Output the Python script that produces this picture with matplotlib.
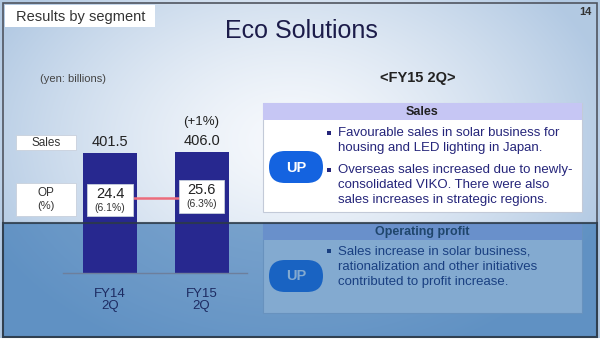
import numpy as np
import matplotlib.pyplot as plt
from matplotlib.patches import Rectangle, FancyBboxPatch

plt.rcParams['font.family'] = ['Liberation Sans', 'DejaVu Sans']

# segment figures (yen: billions)
categories = ["FY14\n2Q", "FY15\n2Q"]
sales = [401.5, 406.0]
op = [24.4, 25.6]
op_margin = [6.1, 6.3]

sales_points = [
    "Favourable sales in solar business for\nhousing and LED lighting in Japan.",
    "Overseas sales increased due to newly-\nconsolidated VIKO. There were also\nsales increases in strategic regions.",
]
op_points = [
    "Sales increase in solar business,\nrationalization and other initiatives\ncontributed to profit increase.",
]

W, H = 600, 346
NAVY = "#27288f"
TEXT_BLUE = "#25257a"

fig = plt.figure(figsize=(W / 100, H / 100), dpi=100)

# slide background, drawn in pixel coordinates
bg = fig.add_axes([0, 0, 1, 1], zorder=0)
bg.set_xlim(0, W)
bg.set_ylim(H, 0)
bg.axis("off")

yy, xx = np.mgrid[0:H, 0:W]
t = np.sqrt(((xx - 290) / 330.0) ** 2 + ((yy - 140) / 230.0) ** 2)
t = np.clip(t, 0, 1) ** 1.4
light = np.array([0.965, 0.975, 0.99])
edge = np.array([0.70, 0.79, 0.89])
grad = light[None, None, :] * (1 - t[..., None]) + edge[None, None, :] * t[..., None]
grad[338:, :, :] = 1.0
bg.imshow(grad, extent=(0, W, H, 0), aspect="auto", zorder=0)
bg.add_patch(Rectangle((3, 3), 594, 334, fill=False, ec="#505560", lw=1.2, zorder=1))

# header tag, title, page number
bg.add_patch(Rectangle((5, 5), 150, 22, fc="white", ec="none", zorder=2))
bg.text(81, 16.5, "Results by segment", fontsize=10.5, color="#333333",
        ha="center", va="center", zorder=3)
bg.text(301, 31, "Eco Solutions", fontsize=18, color="#1c1c4a",
        ha="center", va="center", zorder=3)
bg.text(585, 12, "14", fontsize=8, fontweight="bold", color="#333333",
        ha="center", va="center", zorder=3)
bg.text(73, 79, "(yen: billions)", fontsize=8, color="#444444",
        ha="center", va="center", zorder=3)
bg.text(418, 78, "<FY15 2Q>", fontsize=10.5, fontweight="bold", color="#222222",
        ha="center", va="center", zorder=3)

# row labels left of the bars
bg.add_patch(Rectangle((16, 135), 60, 15, fc="white", ec="#c8d0dc", lw=0.6, zorder=2))
bg.text(46, 142.5, "Sales", fontsize=8.5, color="#333333", ha="center", va="center", zorder=3)
bg.add_patch(Rectangle((16, 183), 60, 33, fc="white", ec="#c8d0dc", lw=0.6, zorder=2))
bg.text(46, 193, "OP", fontsize=8.5, color="#333333", ha="center", va="center", zorder=3)
bg.text(46, 206, "(%)", fontsize=8, color="#333333", ha="center", va="center", zorder=3)


def panel(top, header_h, body_h, title):
    bg.add_patch(Rectangle((263, top), 319, header_h + body_h, fc="white",
                           ec="#c3cad8", lw=0.8, zorder=2))
    bg.add_patch(Rectangle((263, top), 319, header_h, fc="#c6c6f4", ec="none", zorder=2))
    bg.text(422, top + header_h / 2 + 0.5, title, fontsize=9, fontweight="bold",
            color="#222222", ha="center", va="center", zorder=3)


def up_pill(cy):
    bg.add_patch(FancyBboxPatch((269, cy - 16), 54, 32,
                                boxstyle="round,pad=0,rounding_size=16",
                                fc="#1463e0", ec="none", zorder=3))
    bg.text(296, cy + 0.5, "UP", fontsize=10.5, fontweight="bold", color="white",
            ha="center", va="center", zorder=4)


def bullets(points, y0, color, step=15.0, gap=7.0):
    y = y0
    for p in points:
        bg.add_patch(Rectangle((327, y - 2), 4, 4, fc=color, ec="none", zorder=3))
        for ln in p.split("\n"):
            bg.text(338, y + 0.5, ln, fontsize=9.5, color=color,
                    ha="left", va="center", zorder=3)
            y += step
        y += gap


panel(103, 17, 92, "Sales")
up_pill(167)
bullets(sales_points, 133, TEXT_BLUE)

panel(223, 17, 73, "Operating profit")
up_pill(276)
bullets(op_points, 251, "#141450")

# translucent band across the lower part of the slide
band = fig.add_axes([0, 0, 1, 1], zorder=1)
band.set_xlim(0, W)
band.set_ylim(H, 0)
band.axis("off")
band.patch.set_alpha(0)
band.add_patch(Rectangle((3, 223), 594, 114, fc="#1e64aa", alpha=0.55, ec="none"))

# bar chart of sales with OP boxes
ax = fig.add_axes([63 / W, (H - 273) / H, 184 / W, 143.5 / H], zorder=2)
ax.set_facecolor("none")
x = np.arange(len(categories))
ax.bar(x, sales, width=0.59, color=NAVY, zorder=2)
ax.set_xlim(-0.514, 1.497)
ax.set_ylim(0, 480)
for s in ("top", "left", "right"):
    ax.spines[s].set_visible(False)
ax.spines["bottom"].set_color("#6d7f9c")
ax.spines["bottom"].set_linewidth(1.0)
ax.set_yticks([])
ax.set_xticks(x)
ax.set_xticklabels(categories, fontsize=9.5, color="#1d2b62", linespacing=1.0)
ax.tick_params(axis="x", length=0, pad=11)

growth = (sales[1] / sales[0] - 1) * 100
for i, v in enumerate(sales):
    ax.annotate(f"{v:.1f}", (x[i], v), xytext=(0, 8), textcoords="offset points",
                ha="center", va="center", fontsize=10.5, color="#222222")
ax.annotate(f"(+{growth:.0f}%)", (x[1], sales[1]), xytext=(0, 21), textcoords="offset points",
            ha="center", va="center", fontsize=9.5, color="#222222")

box_y = [244, 256]
ax.plot([x[0] + 0.25, x[1] - 0.245], [251, 251], color="#ec6c7c", lw=1.8, zorder=3)
for i in range(len(categories)):
    ax.add_patch(Rectangle((x[i] - 0.25, box_y[i] - 55), 0.5, 110, fc="white",
                           ec="#c8d0dc", lw=0.6, zorder=4))
    ax.text(x[i], box_y[i] + 20, f"{op[i]:.1f}", fontsize=10.5, color="#222222",
            ha="center", va="center", zorder=5)
    ax.text(x[i], box_y[i] - 25, f"({op_margin[i]:.1f}%)", fontsize=7.5, color="#333333",
            ha="center", va="center", zorder=5)

# band outline on top of everything
rim = fig.add_axes([0, 0, 1, 1], zorder=3)
rim.set_xlim(0, W)
rim.set_ylim(H, 0)
rim.axis("off")
rim.patch.set_alpha(0)
rim.add_patch(Rectangle((3, 223), 594, 114, fill=False, ec="#2c3a48", lw=1.5, alpha=0.85))

fig.savefig("out.png", dpi=100)
